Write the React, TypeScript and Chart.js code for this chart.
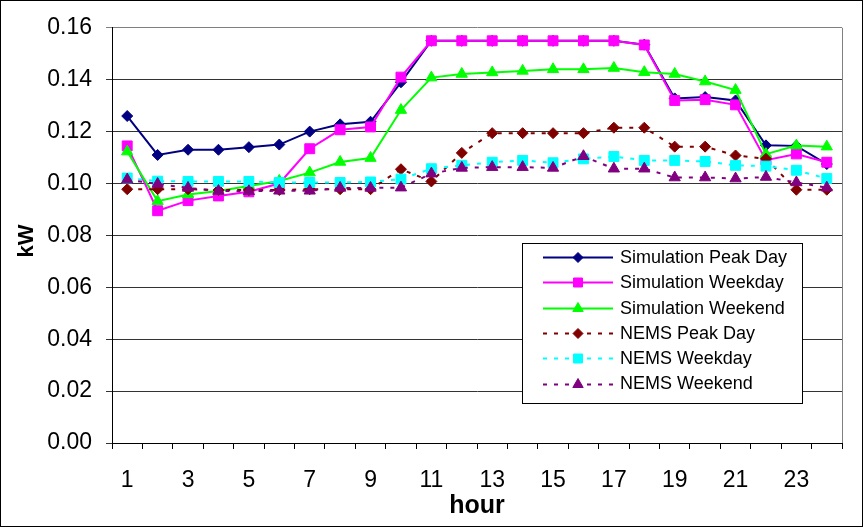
import React, { useEffect, useRef } from 'react';
import { Chart, registerables } from 'chart.js';

Chart.register(...registerables);

const FONT = '"Liberation Sans", Arial, Helvetica, sans-serif';

// ---- data ----
const hours = ['1', '2', '3', '4', '5', '6', '7', '8', '9', '10', '11', '12', '13', '14', '15', '16', '17', '18', '19', '20', '21', '22', '23', '24'];

const simPeakDay = [0.126, 0.111, 0.113, 0.113, 0.114, 0.115, 0.120, 0.1228, 0.1238, 0.139, 0.155, 0.155, 0.155, 0.155, 0.155, 0.155, 0.155, 0.1535, 0.1328, 0.1333, 0.132, 0.1147, 0.1145, 0.1075];
const simWeekday = [0.1145, 0.0895, 0.0934, 0.0952, 0.0968, 0.100, 0.1134, 0.1207, 0.1218, 0.141, 0.155, 0.155, 0.155, 0.155, 0.155, 0.155, 0.155, 0.1534, 0.132, 0.1323, 0.1303, 0.109, 0.1114, 0.1082];
const simWeekend = [0.1123, 0.0932, 0.0958, 0.0971, 0.099, 0.101, 0.1042, 0.1083, 0.1098, 0.1283, 0.1408, 0.1422, 0.1428, 0.1434, 0.144, 0.144, 0.1445, 0.1429, 0.1422, 0.1393, 0.136, 0.1113, 0.1146, 0.1142];
const nemsPeakDay = [0.0978, 0.0978, 0.0978, 0.0975, 0.0975, 0.0975, 0.0978, 0.0978, 0.0978, 0.1055, 0.1008, 0.1118, 0.1194, 0.1194, 0.1194, 0.1194, 0.1215, 0.1215, 0.1142, 0.1142, 0.1108, 0.1095, 0.0976, 0.0976];
const nemsWeekday = [0.1021, 0.1009, 0.1008, 0.1008, 0.1008, 0.1004, 0.1004, 0.1004, 0.1006, 0.1017, 0.1057, 0.107, 0.1082, 0.1089, 0.108, 0.1095, 0.1104, 0.1089, 0.1089, 0.1085, 0.107, 0.1067, 0.1051, 0.1019];
const nemsWeekend = [0.1015, 0.0998, 0.0983, 0.0971, 0.097, 0.0972, 0.0972, 0.0983, 0.0983, 0.0984, 0.1038, 0.106, 0.1063, 0.1063, 0.106, 0.1105, 0.1057, 0.1057, 0.1023, 0.1023, 0.1019, 0.1025, 0.1004, 0.0984];

const seriesNames = ['Simulation Peak Day', 'Simulation Weekday', 'Simulation Weekend', 'NEMS Peak Day', 'NEMS Weekday', 'NEMS Weekend'];
const seriesValues = [simPeakDay, simWeekday, simWeekend, nemsPeakDay, nemsWeekday, nemsWeekend];

const yTitle = 'kW';
const xTitle = 'hour';

// ---- styles ----
const seriesColors = ['#000080', '#FF00FF', '#00FF00', '#800000', '#00FFFF', '#800080'];
const seriesMarkers = ['rectRot', 'rect', 'triangle', 'rectRot', 'rect', 'triangle'];
const seriesDashed = [false, false, false, true, true, true];
const markerRadius: Record<string, number> = { rectRot: 5.5, rect: 7, triangle: 6.5 };
const DASH = [4, 7];

function drawMarker(ctx: CanvasRenderingContext2D, style: string, x: number, y: number, color: string) {
  ctx.save();
  ctx.setLineDash([]);
  ctx.fillStyle = color;
  ctx.strokeStyle = color;
  ctx.lineWidth = 1;
  ctx.beginPath();
  if (style === 'rectRot') {
    const r = 5;
    ctx.moveTo(x - r, y);
    ctx.lineTo(x, y - r);
    ctx.lineTo(x + r, y);
    ctx.lineTo(x, y + r);
    ctx.closePath();
  } else if (style === 'rect') {
    const h = 4.5;
    ctx.rect(x - h, y - h, 2 * h, 2 * h);
  } else {
    const r = 6;
    ctx.moveTo(x, y - r);
    ctx.lineTo(x + r * 0.866, y + r * 0.5);
    ctx.lineTo(x - r * 0.866, y + r * 0.5);
    ctx.closePath();
  }
  ctx.fill();
  ctx.stroke();
  ctx.restore();
}

const decorPlugin = {
  id: 'decor',
  beforeDatasetsDraw(chart: any) {
    const { ctx, chartArea } = chart;
    ctx.save();
    ctx.strokeStyle = '#808080';
    ctx.lineWidth = 1;
    ctx.beginPath();
    const rx = Math.round(chartArea.right) + 0.5;
    ctx.moveTo(rx, chartArea.top);
    ctx.lineTo(rx, chartArea.bottom);
    ctx.stroke();
    ctx.restore();
  },
  afterDraw(chart: any) {
    const { ctx, chartArea, width, height } = chart;
    ctx.save();
    // outer frame
    ctx.strokeStyle = '#000';
    ctx.lineWidth = 1;
    ctx.strokeRect(0.5, 0.5, width - 1, height - 1);

    // axis titles
    ctx.fillStyle = '#000';
    ctx.textAlign = 'center';
    ctx.textBaseline = 'middle';
    ctx.font = `bold 25px ${FONT}`;
    ctx.fillText(xTitle, (chartArea.left + chartArea.right) / 2, 506);
    ctx.save();
    ctx.translate(27, 241);
    ctx.rotate(-Math.PI / 2);
    ctx.font = `bold 22px ${FONT}`;
    ctx.fillText(yTitle, 0, 0);
    ctx.restore();

    // legend
    const lx = 522, ly = 243, lw = 280, lh = 160;
    ctx.fillStyle = '#fff';
    ctx.fillRect(lx, ly, lw, lh);
    ctx.strokeStyle = '#000';
    ctx.strokeRect(lx + 0.5, ly + 0.5, lw, lh);
    ctx.font = `18px ${FONT}`;
    ctx.textAlign = 'left';
    ctx.textBaseline = 'middle';
    for (let i = 0; i < seriesNames.length; i++) {
      const cy = 257 + i * 25.3;
      const yy = Math.round(cy) + 0.5;
      ctx.save();
      ctx.strokeStyle = seriesColors[i];
      ctx.lineWidth = 2;
      ctx.setLineDash(seriesDashed[i] ? DASH : []);
      ctx.beginPath();
      ctx.moveTo(543, yy);
      ctx.lineTo(613, yy);
      ctx.stroke();
      ctx.restore();
      drawMarker(ctx, seriesMarkers[i], 578, yy, seriesColors[i]);
      ctx.fillStyle = '#000';
      ctx.fillText(seriesNames[i], 620, cy + 1);
    }
    ctx.restore();
  },
};

export default function App() {
  const canvasRef = useRef<HTMLCanvasElement | null>(null);

  useEffect(() => {
    document.body.style.margin = '0';
    const canvas = canvasRef.current;
    if (!canvas) return;
    const datasets = seriesNames.map((name, i) => ({
      label: name,
      data: seriesValues[i],
      borderColor: seriesColors[i],
      backgroundColor: seriesColors[i],
      borderWidth: 2,
      borderDash: seriesDashed[i] ? DASH : [],
      pointStyle: seriesMarkers[i],
      pointRadius: markerRadius[seriesMarkers[i]],
      pointHoverRadius: markerRadius[seriesMarkers[i]],
      pointBackgroundColor: seriesColors[i],
      pointBorderColor: seriesColors[i],
      pointBorderWidth: 1,
      tension: 0,
      fill: false,
      order: seriesNames.length - 1 - i,
    }));

    const chart = new Chart(canvas, {
      type: 'line',
      data: { labels: hours, datasets },
      options: {
        animation: false,
        responsive: false,
        maintainAspectRatio: false,
        devicePixelRatio: 1,
        layout: { padding: { left: 0, top: 24, right: 21, bottom: 0 } },
        plugins: {
          legend: { display: false },
          tooltip: { enabled: false },
        },
        scales: {
          x: {
            type: 'category',
            offset: true,
            grid: {
              offset: true,
              drawOnChartArea: false,
              drawTicks: true,
              tickLength: 6,
              color: '#000',
            },
            border: { display: true, color: '#000', width: 1 },
            ticks: {
              autoSkip: false,
              maxRotation: 0,
              padding: 18,
              color: '#000',
              font: { family: FONT, size: 23 },
              callback: (_v: any, idx: number) => (idx % 2 === 0 ? hours[idx] : ''),
            },
            afterFit: (scale: any) => {
              scale.height = 84;
            },
          },
          y: {
            min: 0,
            max: 0.16,
            grid: {
              drawTicks: true,
              tickLength: 6,
              color: (c: any) => (c.tick && Math.abs(c.tick.value - 0.16) < 1e-9 ? '#808080' : '#333'),
            },
            border: { display: true, color: '#000', width: 1 },
            ticks: {
              stepSize: 0.02,
              padding: 14,
              color: '#000',
              font: { family: FONT, size: 23 },
              callback: (v: any) => Number(v).toFixed(2),
            },
            afterFit: (scale: any) => {
              scale.width = 112;
            },
          },
        },
      },
      plugins: [decorPlugin],
    });
    return () => chart.destroy();
  }, []);

  return (
    <div style={{ width: 863, height: 527 }}>
      <canvas ref={canvasRef} width={863} height={527} style={{ display: 'block', width: 863, height: 527 }} />
    </div>
  );
}
